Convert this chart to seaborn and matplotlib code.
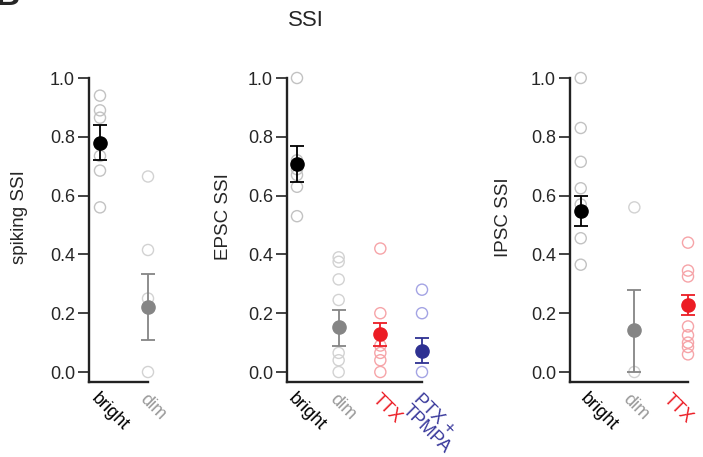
import matplotlib
matplotlib.use("Agg")
import matplotlib.pyplot as plt
import seaborn as sns
import pandas as pd

sns.set_theme(style="ticks")
plt.rcParams['font.family'] = ['Liberation Sans', 'DejaVu Sans']

# ---------------- data ----------------
title = "SSI"

spk_cats = ["bright", "dim"]
spk_bright = [0.94, 0.89, 0.865, 0.735, 0.685, 0.56]
spk_dim = [0.665, 0.415, 0.25, 0.0]
spk_mean = [0.78, 0.22]
spk_lo = [0.72, 0.11]
spk_hi = [0.84, 0.335]

epsc_cats = ["bright", "dim", "TTX", "PTX +\nTPMPA"]
epsc_bright = [1.0, 0.72, 0.69, 0.67, 0.63, 0.53]
epsc_dim = [0.39, 0.375, 0.315, 0.245, 0.065, 0.04, 0.0]
epsc_ttx = [0.42, 0.20, 0.09, 0.065, 0.04, 0.0]
epsc_ptx = [0.28, 0.20, 0.0]
epsc_mean = [0.707, 0.152, 0.128, 0.07]
epsc_lo = [0.645, 0.087, 0.09, 0.03]
epsc_hi = [0.768, 0.212, 0.168, 0.115]

ipsc_cats = ["bright", "dim", "TTX"]
ipsc_bright = [1.0, 0.83, 0.715, 0.625, 0.57, 0.455, 0.365]
ipsc_dim = [0.56, 0.0]
ipsc_ttx = [0.44, 0.345, 0.325, 0.155, 0.125, 0.10, 0.085, 0.06]
ipsc_mean = [0.548, 0.142, 0.229]
ipsc_lo = [0.495, 0.0, 0.195]
ipsc_hi = [0.60, 0.28, 0.262]

# ---------------- styles ----------------
open_col = {"bright": "#c2c2c2", "dim": "#d2d2d2", "TTX": "#f6a4a8", "PTX +\nTPMPA": "#a4a4e4"}
mean_col = {"bright": "#000000", "dim": "#858585", "TTX": "#ec1c24", "PTX +\nTPMPA": "#2e3192"}
lab_col = {"bright": "#000000", "dim": "#9a9a9a", "TTX": "#ec1c24", "PTX +\nTPMPA": "#3a3a9c"}

W, H = 703, 457
fig = plt.figure(figsize=(W / 100, H / 100), dpi=100)

panels = [
    dict(left=89, width=59, xmax=1.0, xmin=-0.229, cats=spk_cats,
         groups=[spk_bright, spk_dim], mean=spk_mean, lo=spk_lo, hi=spk_hi,
         ylabel="spiking SSI", labx=28, lab_shift=[0, 0]),
    dict(left=287, width=135, xmax=3.0, xmin=-0.24, cats=epsc_cats,
         groups=[epsc_bright, epsc_dim, epsc_ttx, epsc_ptx], mean=epsc_mean,
         lo=epsc_lo, hi=epsc_hi, ylabel="EPSC SSI", labx=232, lab_shift=[0, 0, 0, 0]),
    dict(left=570, width=118, xmax=2.0, xmin=-0.2, cats=ipsc_cats,
         groups=[ipsc_bright, ipsc_dim, ipsc_ttx], mean=ipsc_mean,
         lo=ipsc_lo, hi=ipsc_hi, ylabel="IPSC SSI", labx=512, lab_shift=[8, -3, -16]),
]

bottom_px, top_px = 382, 78
for p in panels:
    ax = fig.add_axes([p["left"] / W, (H - bottom_px) / H, p["width"] / W, (bottom_px - top_px) / H])
    rows = []
    for i, (c, vals) in enumerate(zip(p["cats"], p["groups"])):
        for v in vals:
            rows.append({"x": i, "y": v, "cat": c})
    df = pd.DataFrame(rows)
    for i, c in enumerate(p["cats"]):
        sub = df[df["cat"] == c]
        sns.scatterplot(data=sub, x="x", y="y", ax=ax, s=64, color=open_col[c],
                        facecolor="none", edgecolor=open_col[c], linewidth=1.0,
                        clip_on=False, zorder=2, legend=False)
    for i, c in enumerate(p["cats"]):
        m = p["mean"][i]
        ax.errorbar([i], [m], yerr=[[m - p["lo"][i]], [p["hi"][i] - m]], fmt="o",
                    color=mean_col[c], ms=9.5, mec=mean_col[c], elinewidth=1.3,
                    capsize=5, capthick=1.3, clip_on=False, zorder=3)
    ax.set_xlim(p["xmin"], p["xmax"])
    ax.set_ylim(-0.034, 1.0)
    ax.set_yticks([0.0, 0.2, 0.4, 0.6, 0.8, 1.0])
    ax.set_yticklabels(["0.0", "0.2", "0.4", "0.6", "0.8", "1.0"])
    ax.set_xticks(range(len(p["cats"])))
    ax.set_xticklabels([])
    for i, (c, sh) in enumerate(zip(p["cats"], p["lab_shift"])):
        ax.annotate(c, xy=(i, 0), xycoords=ax.get_xaxis_transform(),
                    xytext=(sh * 0.72, -6), textcoords="offset points",
                    rotation=-45, ha="left", va="top", rotation_mode="anchor",
                    fontsize=13, linespacing=0.9, color=lab_col[c],
                    annotation_clip=False)
    ax.tick_params(axis="x", length=0, pad=6)
    ax.tick_params(axis="y", length=8, width=1.2, labelsize=13, pad=2, color="#222222")
    for s in ["top", "right"]:
        ax.spines[s].set_visible(False)
    for s in ["left", "bottom"]:
        ax.spines[s].set_linewidth(1.7)
        ax.spines[s].set_color("#222222")
    ax.set_xlabel("")
    ax.set_ylabel(p["ylabel"], fontsize=13.5)
    ax.yaxis.set_label_coords(p["labx"] / W, 1 - 217 / H, transform=fig.transFigure)
    ax.patch.set_alpha(0)

fig.text(306 / W, 1 - 21 / H, title, ha="center", va="center", fontsize=16)
fig.text(20 / W, 1 - 5 / H, "B", ha="right", va="baseline", fontsize=24, fontweight="bold")

fig.savefig("out.png", dpi=100)
